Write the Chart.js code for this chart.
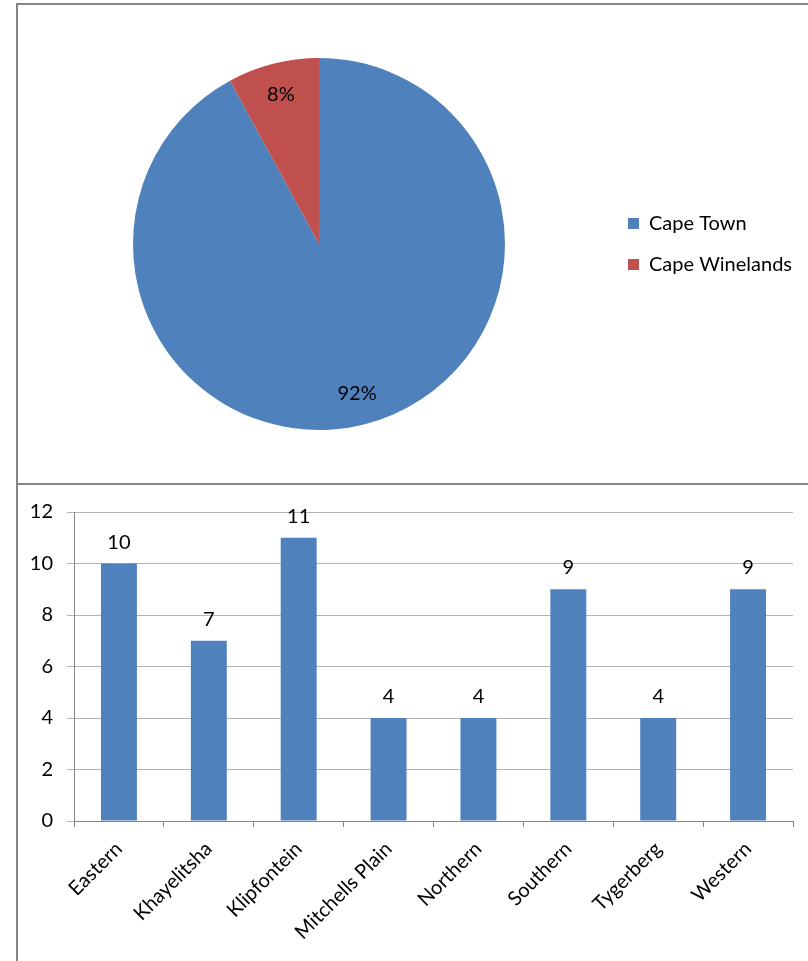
<!DOCTYPE html>
<html>
<head>
<meta charset="utf-8">
<title>Western Cape districts</title>
<script src="https://cdn.jsdelivr.net/npm/chart.js@4/dist/chart.umd.min.js"></script>
<style>
  body { margin: 0; width: 808px; height: 961px; background: #fff; position: relative; overflow: hidden; }
  .panel { position: absolute; left: 16px; width: 800px; border-left: 2px solid #868686; border-top: 2px solid #868686; }
  #top-panel { top: 3px; height: 478px; }
  #bottom-panel { top: 483px; height: 480px; }
  canvas { position: absolute; }
</style>
</head>
<body>
<div class="panel" id="top-panel"></div>
<div class="panel" id="bottom-panel"></div>
<canvas id="share-chart" width="810" height="478" style="left:18px;top:5px"></canvas>
<canvas id="district-chart" width="790" height="475" style="left:18px;top:486px"></canvas>
<script>
const regions = ['Cape Town', 'Cape Winelands'];
const regionCounts = [58, 5];
const regionColors = ['#4F81BD', '#C0504D'];

const districts = ['Eastern', 'Khayelitsha', 'Klipfontein', 'Mitchells Plain', 'Northern', 'Southern', 'Tygerberg', 'Western'];
const districtCounts = [10, 7, 11, 4, 4, 9, 4, 9];
const yTicks = [0, 2, 4, 6, 8, 10, 12];

const FONT = 'Lato, "Open Sans", sans-serif';
Chart.defaults.font.family = FONT;
Chart.defaults.font.size = 20;
Chart.defaults.color = '#000';

// percentage labels inside each slice
const sliceLabels = {
  id: 'sliceLabels',
  afterDatasetsDraw(chart) {
    const ctx = chart.ctx;
    const total = regionCounts.reduce((a, b) => a + b, 0);
    ctx.save();
    ctx.font = '20px ' + FONT;
    ctx.fillStyle = '#000';
    ctx.textAlign = 'center';
    ctx.textBaseline = 'middle';
    chart.getDatasetMeta(0).data.forEach((arc, i) => {
      const p = arc.getProps(['x', 'y', 'startAngle', 'endAngle', 'outerRadius'], true);
      const mid = (p.startAngle + p.endAngle) / 2;
      const r = p.outerRadius * 0.83;
      ctx.fillText(Math.round(regionCounts[i] / total * 100) + '%', p.x + Math.cos(mid) * r, p.y + Math.sin(mid) * r);
    });
    ctx.restore();
  }
};

// value above each bar
const barLabels = {
  id: 'barLabels',
  afterDatasetsDraw(chart) {
    const ctx = chart.ctx;
    ctx.save();
    ctx.font = '20px ' + FONT;
    ctx.fillStyle = '#000';
    ctx.textAlign = 'center';
    ctx.textBaseline = 'alphabetic';
    chart.getDatasetMeta(0).data.forEach((bar, i) => {
      ctx.fillText(String(districtCounts[i]), bar.x, bar.y - 15);
    });
    ctx.restore();
  }
};

new Chart(document.getElementById('share-chart'), {
  type: 'pie',
  data: {
    labels: regions,
    datasets: [{ data: regionCounts, backgroundColor: regionColors, borderWidth: 0 }]
  },
  options: {
    responsive: false,
    animation: false,
    layout: { padding: { left: 13, right: 26, top: 53, bottom: 53 } },
    plugins: {
      tooltip: { enabled: false },
      legend: {
        position: 'right',
        labels: { boxWidth: 11, boxHeight: 11, padding: 21, color: '#000', font: { size: 20 } }
      }
    }
  },
  plugins: [sliceLabels]
});

new Chart(document.getElementById('district-chart'), {
  type: 'bar',
  data: {
    labels: districts,
    datasets: [{ data: districtCounts, backgroundColor: '#4F81BD', barPercentage: 0.4, categoryPercentage: 1 }]
  },
  options: {
    responsive: false,
    animation: false,
    layout: { padding: { left: 0, right: 15, top: 24, bottom: 0 } },
    plugins: { legend: { display: false }, tooltip: { enabled: false } },
    scales: {
      x: {
        offset: true,
        grid: { offset: true, drawOnChartArea: false, tickLength: 6, color: '#868686' },
        border: { color: '#868686' },
        ticks: { minRotation: 45, maxRotation: 45, autoSkip: false, padding: 10, font: { size: 20 } },
        afterFit(axis) { axis.height = 140; }
      },
      y: {
        min: 0,
        max: 12,
        afterBuildTicks(axis) { axis.ticks = yTicks.map(v => ({ value: v })); },
        grid: { color: '#B3B3B3', tickLength: 7 },
        border: { color: '#868686' },
        ticks: { padding: 14, font: { size: 20 } },
        afterFit(axis) { axis.width = 56; }
      }
    }
  },
  plugins: [barLabels]
});
</script>
</body>
</html>
